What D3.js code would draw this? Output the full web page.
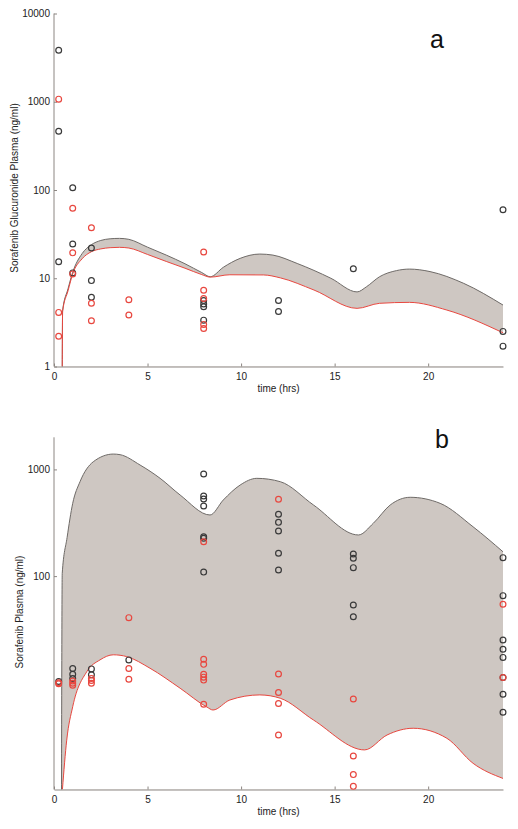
<!DOCTYPE html>
<html><head><meta charset="utf-8">
<script src="https://cdn.jsdelivr.net/npm/d3@7"></script>
<style>
html,body{margin:0;padding:0;background:#fff;}
svg text{font-family:"Liberation Sans",Arial,sans-serif;}
</style></head>
<body>
<svg id="c" width="518" height="829"></svg>
<script>
// ---------- data ----------
const xTicks = [0, 5, 10, 15, 20];
const topYTicks = [1, 10, 100, 1000, 10000];
const botYTicks = [100, 1000];

// Panel a: model band (upper = grey line, lower = red line)
const aUpT = [0.44, 0.46, 0.75, 1, 1.5, 2, 2.5, 3, 3.5, 4, 5, 6, 7, 7.9, 8.35, 9.05, 9.95, 11, 11.7, 13, 14.8, 16.2, 16.7, 17.4, 18.3, 19.0, 20.1, 21.9, 24];
const aUpV = [0.9, 4.3, 7.6, 11.7, 19, 24, 26.8, 28, 28.3, 27.6, 22.5, 18.3, 14.6, 11.6, 10.4, 13.3, 16.8, 18.8, 18.3, 14.7, 10, 7.0, 8.0, 10.4, 12.2, 12.7, 11.9, 8.75, 4.97];
const aLoT = [0.44, 0.46, 0.75, 1, 1.5, 2, 2.5, 3, 3.5, 4, 5, 6, 7, 7.9, 8.35, 9.4, 11.2, 12.1, 13.9, 16.2, 17.4, 19.0, 21.0, 24];
const aLoV = [0.9, 4.2, 7.2, 11.2, 16.6, 20, 21.5, 22.2, 22.4, 22, 18.6, 15.5, 13, 11, 10.3, 10.95, 10.9, 10.1, 7.35, 4.56, 5.2, 5.33, 4.36, 2.41];

// Panel a: observations
const aBlackT = [0.25, 0.25, 0.25, 1, 1, 1, 2, 2, 2, 8, 8, 8, 8, 12, 12, 16, 24, 24, 24];
const aBlackV = [3840, 464, 15.4, 106, 24.4, 11.5, 22, 9.4, 6.1, 5.6, 5.1, 4.75, 3.35, 5.6, 4.2, 12.8, 59.7, 2.5, 1.7];
const aRedT = [0.25, 0.25, 0.25, 1, 1, 1, 2, 2, 2, 4, 4, 8, 8, 8, 8, 8];
const aRedV = [1070, 4.1, 2.2, 62, 19.4, 11.2, 37.3, 5.2, 3.3, 5.7, 3.83, 19.8, 7.3, 5.9, 3.0, 2.7];

// Panel b: model band
const bUpT = [0.40, 0.44, 0.7, 1, 1.39, 2.1, 3.17, 3.53, 4.6, 5.67, 6.74, 8.34, 9.05, 9.95, 10.84, 12.1, 13.87, 16.27, 17.07, 17.97, 19.04, 20.64, 22.4, 24];
const bUpV = [0.9, 106, 230, 481, 767, 1180, 1393, 1375, 1100, 826, 576, 374, 517, 714, 825, 767, 464, 243, 313, 464, 548, 481, 290, 169];
const bLoT = [0.45, 0.68, 1, 1.75, 2.46, 3.17, 3.89, 5.13, 6.74, 8.17, 8.5, 9.4, 11, 12.1, 13.87, 16.6, 17.8, 19.2, 21, 22.4, 24];
const bLoV = [1, 2.9, 5.97, 12.7, 16.4, 18.3, 17.6, 13.7, 8.9, 5.93, 5.56, 6.9, 7.7, 7.16, 4.48, 2.35, 3.24, 3.75, 3.02, 1.76, 1.27];

// Panel b: observations
const bBlackT = [0.25, 1, 1, 1, 2, 2, 4, 8, 8, 8, 8, 8, 8, 8, 12, 12, 12, 12, 12, 16, 16, 16, 16, 16, 24, 24, 24, 24, 24, 24, 24, 24];
const bBlackV = [10.3, 13.6, 12.0, 11.0, 13.5, 11.9, 16.4, 906, 563, 528, 454, 234, 226, 109, 380, 319, 265, 164, 114, 161, 147, 120, 53.6, 41.6, 149, 65.6, 25.2, 20.6, 17.3, 11.2, 7.8, 5.3];
const bRedT = [0.25, 0.25, 1, 1, 1, 2, 2, 2, 4, 4, 4, 8, 8, 8, 8, 8, 8, 8, 12, 12, 12, 12, 12, 16, 16, 16, 16, 24, 24];
const bRedV = [10.0, 9.8, 10.4, 9.9, 9.5, 11.0, 10.5, 9.9, 40.8, 13.6, 10.8, 210, 16.6, 14.9, 12, 11.3, 10.6, 6.3, 525, 12.1, 8.1, 6.4, 3.24, 7.05, 2.06, 1.38, 1.07, 54.4, 11.2];

// ---------- styles ----------
const AXIS = "#8c8682", TXT = "#222", FILL = "#cec7c2", UPLINE = "#6e6a67", RED = "#e8473f", BLK = "#3a3a3a";

const svg = d3.select("#c");
const zip = (a, b) => a.map((v, i) => [v, b[i]]);

function panel(cfg) {
  const x = d3.scaleLinear().domain([0, 24]).range([54, 503]);
  const y = d3.scaleLog().domain(cfg.yDomain).range(cfg.yRange);
  const g = svg.append("g");
  const clipId = "clip" + cfg.id;
  svg.append("defs").append("clipPath").attr("id", clipId)
    .append("rect").attr("x", 54).attr("y", cfg.yRange[1])
    .attr("width", 503 - 54).attr("height", cfg.yRange[0] - cfg.yRange[1]);
  const band = g.append("g").attr("clip-path", `url(#${clipId})`);
  const yb = cfg.yRange[0] + 5;
  const area = d3.area().x(d => x(d[0])).y0(yb).y1(d => y(d[1])).curve(d3.curveMonotoneX);
  const line = d3.line().x(d => x(d[0])).y(d => y(d[1])).curve(d3.curveMonotoneX);
  const up = zip(cfg.upT, cfg.upV), lo = zip(cfg.loT, cfg.loV);
  band.append("path").attr("d", area(up)).attr("fill", FILL);
  band.append("path").attr("d", area(lo)).attr("fill", "#fff");
  band.append("path").attr("d", line(up)).attr("fill", "none").attr("stroke", UPLINE).attr("stroke-width", 1);
  band.append("path").attr("d", line(lo)).attr("fill", "none").attr("stroke", RED).attr("stroke-width", 1);

  // axes
  const ax = g.append("g").attr("transform", `translate(0,${cfg.yRange[0]})`)
    .call(d3.axisBottom(x).tickValues(xTicks).tickSize(-3).tickSizeOuter(0).tickPadding(6));
  const ay = g.append("g").attr("transform", "translate(54,0)")
    .call(d3.axisLeft(y).tickValues(cfg.yTicks).tickFormat(d3.format("d")).tickSize(-3).tickSizeOuter(0).tickPadding(4));
  [ax, ay].forEach(a => {
    a.select(".domain").attr("stroke", AXIS);
    a.selectAll(".tick line").attr("stroke", AXIS);
    a.selectAll("text").attr("fill", TXT).style("font-size", "10px");
  });
  ay.select(".domain").attr("d", `M0,${cfg.yRange[0]}V${cfg.yRange[1]}`);

  // points
  const pts = g.append("g");
  zip(cfg.bT, cfg.bV).forEach(d => pts.append("circle").attr("cx", x(d[0])).attr("cy", y(d[1])).attr("r", 2.9)
    .attr("fill", "none").attr("stroke", BLK).attr("stroke-width", 1.2));
  zip(cfg.rT, cfg.rV).forEach(d => pts.append("circle").attr("cx", x(d[0])).attr("cy", y(d[1])).attr("r", 2.9)
    .attr("fill", "none").attr("stroke", RED).attr("stroke-width", 1.2));

  // labels
  g.append("text").attr("x", 278.5).attr("y", cfg.xLabelY).attr("text-anchor", "middle")
    .attr("fill", TXT).style("font-size", "10px").text("time (hrs)");
  g.append("text").attr("transform", `translate(${cfg.yLabelX},${cfg.yLabelMid}) rotate(-90)`)
    .attr("text-anchor", "middle").attr("fill", TXT).style("font-size", "10px").text(cfg.yLabel);
  g.append("text").attr("x", cfg.letterX).attr("y", cfg.letterY).attr("text-anchor", "middle")
    .attr("fill", "#111").style("font-size", "25px").text(cfg.letter);
}

panel({
  id: "a", yDomain: [1, 10000], yRange: [366.5, 13.5], yTicks: topYTicks,
  upT: aUpT, upV: aUpV, loT: aLoT, loV: aLoV,
  bT: aBlackT, bV: aBlackV, rT: aRedT, rV: aRedV,
  xLabelY: 391.5, yLabelX: 17.5, yLabelMid: 188,
  yLabel: "Sorafenib Glucuronide Plasma (ng/ml)", letter: "a", letterX: 437, letterY: 48
});
panel({
  id: "b", yDomain: [1, 2000], yRange: [789.5, 437.3], yTicks: botYTicks,
  upT: bUpT, upV: bUpV, loT: bLoT, loV: bLoV,
  bT: bBlackT, bV: bBlackV, rT: bRedT, rV: bRedV,
  xLabelY: 815, yLabelX: 22.5, yLabelMid: 612,
  yLabel: "Sorafenib Plasma (ng/ml)", letter: "b", letterX: 442, letterY: 448
});
</script>
</body></html>
